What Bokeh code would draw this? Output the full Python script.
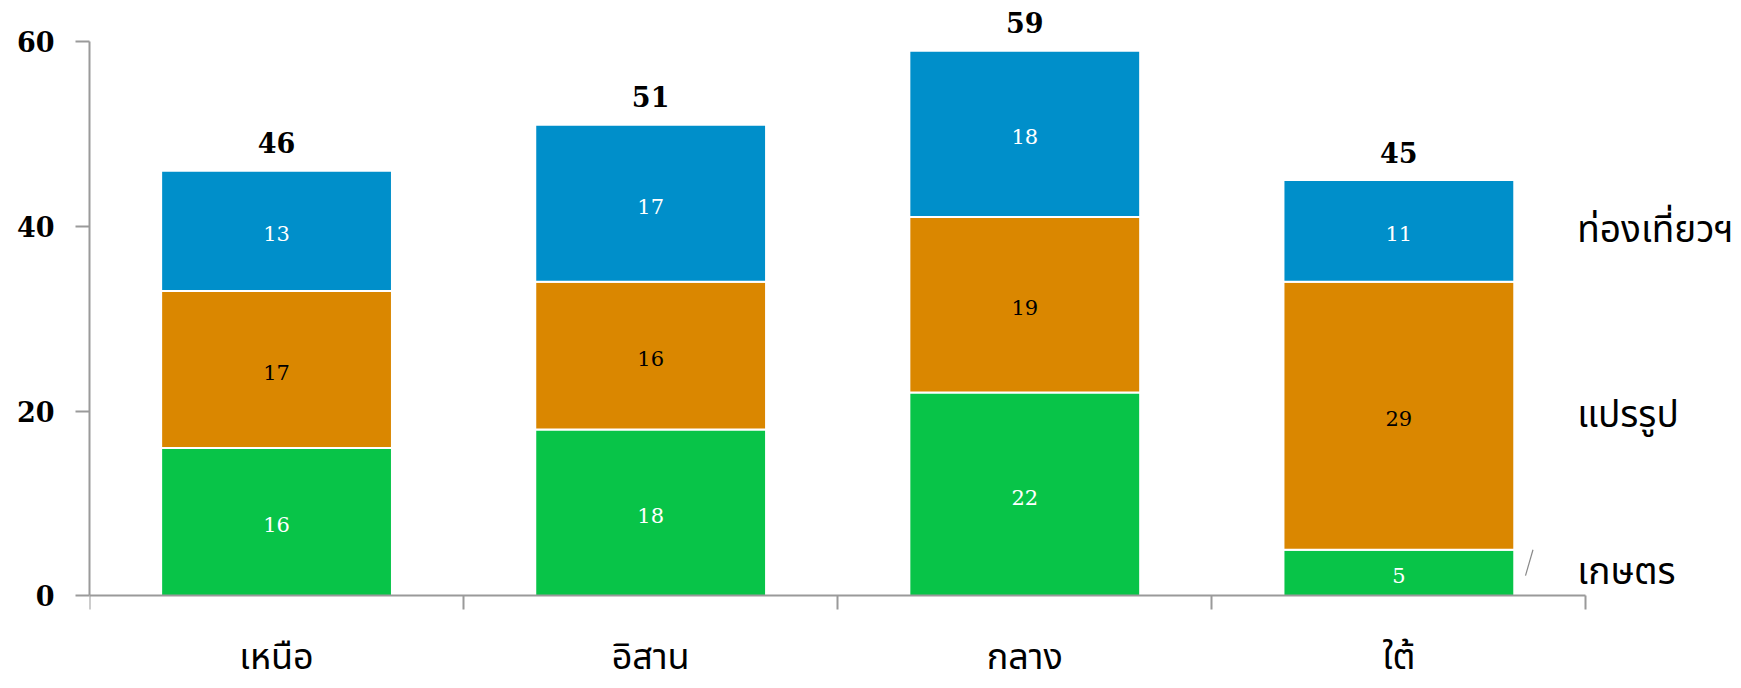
from bokeh.plotting import figure
from bokeh.models import Range1d, FixedTicker, ColumnDataSource
from bokeh.core.properties import value
from bokeh.embed import file_html
from bokeh.resources import INLINE

# ---- data ----
regions = ["เหนือ", "อิสาน", "กลาง", "ใต้"]
series_names = ["เกษตร", "แปรรูป", "ท่องเที่ยวฯ"]
agri = [16, 18, 22, 5]
proc = [17, 16, 19, 29]
tour = [13, 17, 18, 11]
y_ticks = [0, 20, 40, 60]

# ---- styles ----
colors = ["#08C448", "#DA8700", "#008FCA"]
label_colors = ["white", "black", "white"]
AXIS_GREY = "#9a9a9a"
THAI_FONT = "Noto Sans Thai, Loma, Garuda, Tlwg Typo, sans-serif"
NUM_FONT = "DejaVu Serif"
BAR_W = 0.617

series = [agri, proc, tour]
n = len(regions)
xs = [i + 0.5 for i in range(n)]

p = figure(width=1733, height=688,
           x_range=Range1d(0, 4.3945), y_range=Range1d(-10.02, 63.57),
           min_border_left=89, min_border_right=0, min_border_top=8,
           min_border_bottom=0,
           output_backend="svg", toolbar_location=None)
p.outline_line_color = None
p.xgrid.grid_line_color = None
p.ygrid.grid_line_color = None
p.background_fill_color = "white"

# stacked bars
bottoms = [0] * n
for vals, col, lc in zip(series, colors, label_colors):
    tops = [b + v for b, v in zip(bottoms, vals)]
    mids = [b + v / 2 for b, v in zip(bottoms, vals)]
    src = ColumnDataSource(dict(x=xs, bottom=bottoms, top=tops, mid=mids,
                                txt=[str(v) for v in vals]))
    p.vbar(x="x", width=BAR_W, bottom="bottom", top="top", source=src,
           fill_color=col, line_color="white", line_width=2)
    p.text(x="x", y="mid", text="txt", source=src, text_align="center",
           text_baseline="middle", y_offset=3, text_color=lc,
           text_font=value(NUM_FONT), text_font_size="21px")
    bottoms = tops

# totals
tot_src = ColumnDataSource(dict(x=xs, y=bottoms, txt=[str(t) for t in bottoms]))
p.text(x="x", y="y", text="txt", source=tot_src, text_align="center",
       text_baseline="alphabetic", y_offset=-28, text_color="black",
       text_font=value(NUM_FONT), text_font_style="bold", text_font_size="27px")

# series labels next to last bar
last_b = 0
lab_y = []
for vals in series:
    lab_y.append(last_b + vals[-1] / 2)
    last_b += vals[-1]
lab_src = ColumnDataSource(dict(x=[xs[-1] + BAR_W / 2] * len(series_names),
                                y=lab_y, txt=series_names))
p.text(x="x", y="y", text="txt", source=lab_src, text_align="left",
       text_baseline="middle", x_offset=63, text_color="black",
       text_font=value(THAI_FONT), text_font_size="37px")

# small leader line for the first series label
p.segment(x0=[xs[-1] + BAR_W / 2 + 0.03], y0=[agri[-1] * 0.44],
          x1=[xs[-1] + BAR_W / 2 + 0.05], y1=[agri[-1]],
          line_color="#888888", line_width=1.2)

# y axis
ya = p.yaxis[0]
ya.ticker = FixedTicker(ticks=y_ticks, minor_ticks=[])
ya.bounds = (y_ticks[0], y_ticks[-1])
ya.axis_line_color = AXIS_GREY
ya.axis_line_width = 2
ya.major_tick_line_color = AXIS_GREY
ya.major_tick_line_width = 2
ya.major_tick_out = 14
ya.major_tick_in = 0
ya.major_label_standoff = 21
ya.major_label_text_font = NUM_FONT
ya.major_label_text_font_style = "bold"
ya.major_label_text_font_size = "27px"
ya.major_label_text_color = "black"

# x axis at y=0: labels at centres, ticks at category boundaries
xa = p.xaxis[0]
xa.fixed_location = 0
xa.ticker = FixedTicker(ticks=xs, minor_ticks=list(range(n + 1)))
xa.bounds = (0, n)
xa.major_label_overrides = {x: r for x, r in zip(xs, regions)}
xa.axis_line_color = AXIS_GREY
xa.axis_line_width = 2
xa.major_tick_line_color = None
xa.major_tick_out = 0
xa.major_tick_in = 0
xa.minor_tick_line_color = AXIS_GREY
xa.minor_tick_line_width = 2
xa.minor_tick_out = 14
xa.minor_tick_in = 0
xa.major_label_standoff = 21
xa.major_label_text_font = THAI_FONT
xa.major_label_text_font_size = "36px"
xa.major_label_text_color = "black"

open("out.html", "w").write(file_html(p, INLINE))
